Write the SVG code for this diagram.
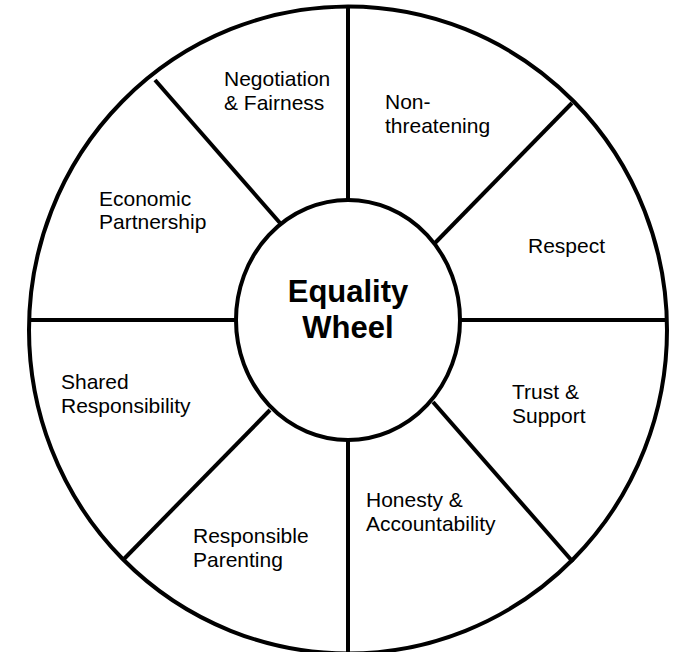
<svg xmlns="http://www.w3.org/2000/svg" width="680" height="652" viewBox="0 0 680 652">
<style>
.ln{stroke:#000;stroke-width:4;fill:none;stroke-linecap:butt}
.t{font-family:"Liberation Sans",Arial,sans-serif;font-size:21px;fill:#000}
.b{font-family:"Liberation Sans",Arial,sans-serif;font-size:31px;font-weight:bold;fill:#000;text-anchor:middle}
</style>
<rect width="680" height="652" fill="#fff"/>
<g id="connectors">
<ellipse class="ln" cx="348" cy="330" rx="319" ry="323.5"/>
<line class="ln" x1="348" y1="7" x2="348" y2="200"/>
<line class="ln" x1="348" y1="440" x2="348" y2="652"/>
<line class="ln" x1="29" y1="320" x2="236" y2="320"/>
<line class="ln" x1="460" y1="320" x2="667" y2="320"/>
<line class="ln" x1="155" y1="80" x2="280" y2="223"/>
<line class="ln" x1="572" y1="103" x2="435" y2="243"/>
<line class="ln" x1="123" y1="560" x2="270" y2="410"/>
<line class="ln" x1="573" y1="562" x2="433" y2="402"/>
</g>
<g id="center">
<ellipse class="ln" cx="348" cy="320" rx="112" ry="120" fill="#fff"/>
<text class="b" x="348" y="302">Equality</text>
<text class="b" x="348" y="338">Wheel</text>
</g>
<g id="negotiation"><text class="t" x="224" y="86">Negotiation</text><text class="t" x="224" y="110">&amp; Fairness</text></g>
<g id="nonthreatening"><text class="t" x="385" y="109">Non-</text><text class="t" x="385" y="133">threatening</text></g>
<g id="economic"><text class="t" x="99" y="206">Economic</text><text class="t" x="99" y="229">Partnership</text></g>
<g id="respect"><text class="t" x="528" y="253">Respect</text></g>
<g id="shared"><text class="t" x="61" y="389">Shared</text><text class="t" x="61" y="413">Responsibility</text></g>
<g id="trust"><text class="t" x="512" y="399">Trust &amp;</text><text class="t" x="512" y="423">Support</text></g>
<g id="honesty"><text class="t" x="366" y="507">Honesty &amp;</text><text class="t" x="366" y="531">Accountability</text></g>
<g id="parenting"><text class="t" x="193" y="543">Responsible</text><text class="t" x="193" y="567">Parenting</text></g>
</svg>
